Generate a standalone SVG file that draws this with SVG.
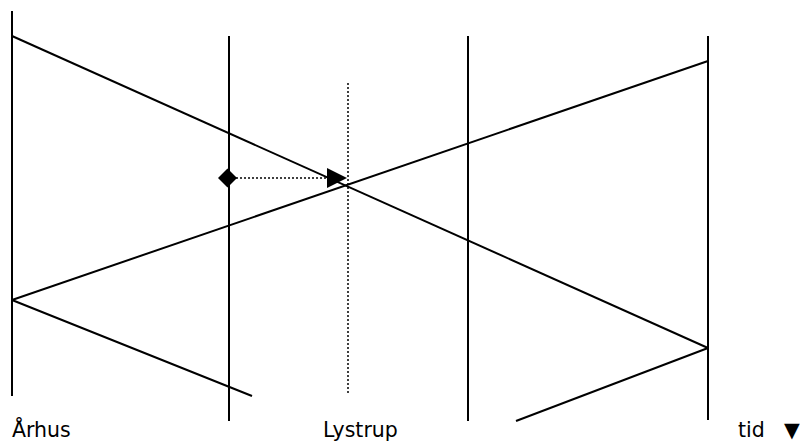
<svg xmlns="http://www.w3.org/2000/svg" width="802" height="442" viewBox="0 0 802 442">
<style>
.ln{stroke:#000;stroke-width:2;fill:none}
.dot{stroke:#000;stroke-width:1.5;stroke-dasharray:2 2;fill:none}
.lbl{font-family:"DejaVu Sans",Verdana,sans-serif;font-size:20.5px;fill:#000}
</style>
<rect width="802" height="442" fill="#fff"/>
<g id="stations">
<line class="ln" x1="12" y1="11" x2="12" y2="396"/>
<line class="ln" x1="229" y1="36" x2="229" y2="421"/>
<line class="ln" x1="468" y1="36" x2="468" y2="421"/>
<line class="ln" x1="708" y1="36" x2="708" y2="420"/>
<line class="dot" x1="348" y1="83" x2="348" y2="393"/>
</g>
<g id="connectors">
<line class="ln" x1="12" y1="36" x2="708" y2="348"/>
<line class="ln" x1="12" y1="300" x2="708" y2="61"/>
<line class="ln" x1="12" y1="300" x2="252" y2="396"/>
<line class="ln" x1="708" y1="348" x2="516" y2="421"/>
<line class="dot" x1="236" y1="178" x2="330" y2="178"/>
</g>
<g id="markers">
<polygon points="218,178 227.5,168.5 237,178 227.5,187.5" fill="#000"/>
<polygon points="327,168 347,178 327,188" fill="#000"/>
</g>
<g id="labels">
<text class="lbl" x="12" y="437">Århus</text>
<text class="lbl" x="323" y="437">Lystrup</text>
<text class="lbl" x="738" y="437">tid<tspan x="784">▼</tspan></text>
</g>
</svg>
